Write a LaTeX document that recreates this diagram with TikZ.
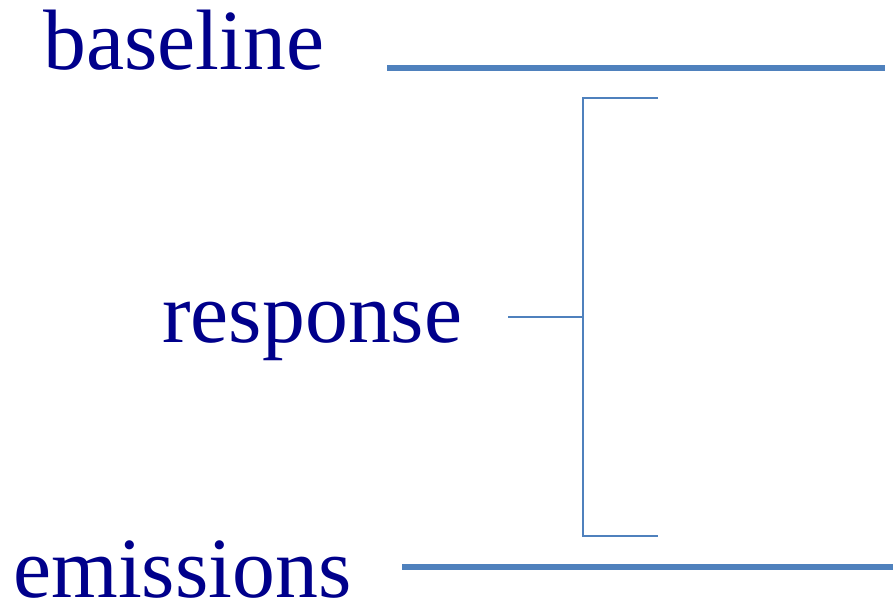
\documentclass[tikz,border=0pt]{standalone}
\usepackage{fontspec}
\setmainfont{Liberation Serif}
\definecolor{txtblue}{RGB}{0,0,139}
\definecolor{lineblue}{RGB}{79,129,189}
\begin{document}
\begin{tikzpicture}[x=0.02cm,y=-0.02cm,
  lbl/.style={anchor=base west,inner sep=0pt,text=txtblue,font=\fontsize{48.8}{52}\selectfont},
  thickline/.style={draw=lineblue,line width=3.3pt},
  thinline/.style={draw=lineblue,line width=1.1pt}]
\useasboundingbox (0,0) rectangle (895,604);
\node[lbl] (baseline) at (43,70) {baseline};
\node[lbl] (response) at (162,342) {response};
\node[lbl] (emissions) at (13,597) {emissions};
\coordinate (b1) at (387,68);
\coordinate (b2) at (885,68);
\coordinate (e1) at (402,567);
\coordinate (e2) at (893,567);
\coordinate (tick) at (508,317);
\coordinate (mid) at (583,317);
\coordinate (top) at (583,98);
\coordinate (topend) at (658,98);
\coordinate (bot) at (583,536);
\coordinate (botend) at (658,536);
\draw[thickline] (b1) -- (b2);
\draw[thickline] (e1) -- (e2);
\draw[thinline] (topend) -- (top) -- (bot) -- (botend);
\draw[thinline] (tick) -- (mid);
\end{tikzpicture}
\end{document}
